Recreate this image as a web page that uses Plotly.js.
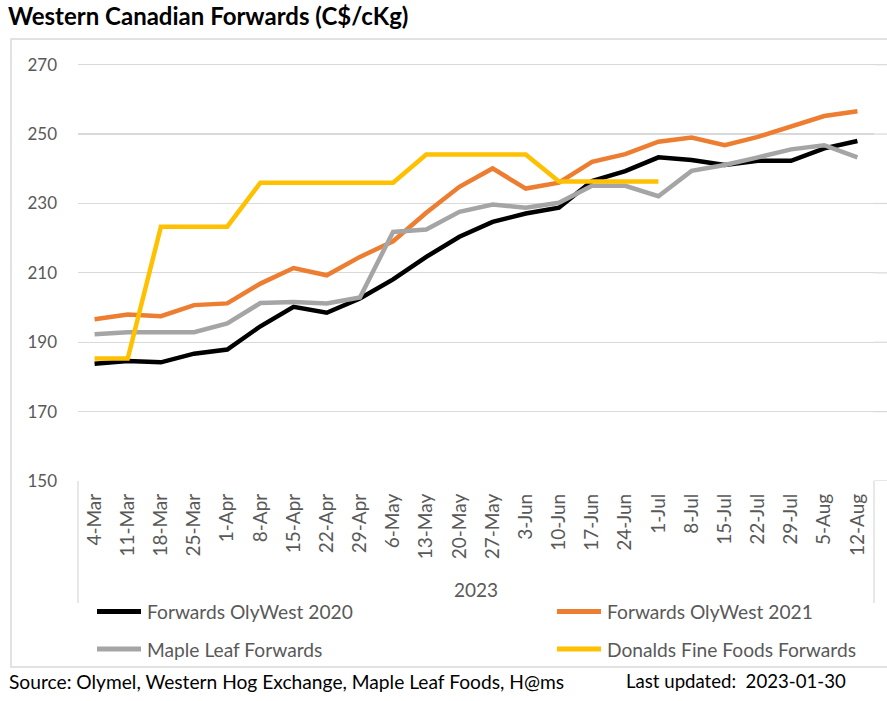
<!DOCTYPE html>
<html>
<head>
<meta charset="utf-8">
<script src="https://cdn.plot.ly/plotly-3.0.1.min.js"></script>
<style>html,body{margin:0;padding:0;background:#fff;}#chart{width:887px;height:701px;}</style>
</head>
<body>
<div id="chart"></div>
<script>
const weeks = ["4-Mar","11-Mar","18-Mar","25-Mar","1-Apr","8-Apr","15-Apr","22-Apr","29-Apr","6-May","13-May","20-May","27-May","3-Jun","10-Jun","17-Jun","24-Jun","1-Jul","8-Jul","15-Jul","22-Jul","29-Jul","5-Aug","12-Aug"];
const olyWest2020 = [183.8,184.6,184.2,186.7,187.9,194.6,200.2,198.5,202.6,208.1,214.6,220.4,224.7,227.1,228.8,236.5,239.3,243.3,242.5,241.1,242.3,242.3,245.9,248.0];
const olyWest2021 = [196.6,198.0,197.5,200.7,201.2,206.9,211.4,209.3,214.6,219.1,227.3,234.8,240.1,234.3,236.0,242.0,244.2,247.8,249.0,246.8,249.2,252.1,255.2,256.6];
const mapleLeaf = [192.3,192.9,192.9,192.9,195.4,201.3,201.6,201.2,202.9,221.8,222.5,227.6,229.7,228.8,230.2,235.1,235.1,232.1,239.4,241.1,243.3,245.6,246.8,243.3];
const donalds = [185.3,185.3,223.3,223.3,223.3,236.0,236.0,236.0,236.0,236.0,244.1,244.1,244.1,244.1,236.3,236.3,236.3,236.3];
const seriesNames = ["Forwards OlyWest 2020","Forwards OlyWest 2021","Maple Leaf Forwards","Donalds Fine Foods Forwards"];
const seriesColors = ["#000000","#ED7D31","#A5A5A5","#FFC000"];
const yTicks = [150,170,190,210,230,250,270];
const groupLabel = "2023";
const chartTitle = "Western Canadian Forwards (C$/cKg)";
const sourceText = "Source: Olymel, Western Hog Exchange, Maple Leaf Foods, H@ms";
const updatedText = "Last updated:  2023-01-30";

const FONT = "Lato, 'Open Sans', sans-serif";
const seriesData = [olyWest2020, olyWest2021, mapleLeaf, donalds];

const traces = seriesData.map((vals, i) => ({
  type: "scatter",
  mode: "lines",
  x: weeks.slice(0, vals.length),
  y: vals,
  name: seriesNames[i],
  line: {color: seriesColors[i], width: 4.5},
  showlegend: false,
  hoverinfo: "x+y+name"
}));

const W = 796, H = 436, L = 78, T = 45;
const px = v => (v - L) / W;
const py = v => (T + H - v) / H;

const shapes = [];
shapes.push({type:"rect", xref:"paper", yref:"paper", x0:px(11), x1:px(890), y0:py(667), y1:py(39),
  line:{color:"#D9D9D9", width:1.5}, fillcolor:"rgba(0,0,0,0)", layer:"below"});
shapes.push({type:"line", xref:"paper", yref:"paper", x0:0, x1:0, y0:0, y1:py(603), line:{color:"#D9D9D9", width:1.2}});
shapes.push({type:"line", xref:"paper", yref:"paper", x0:1, x1:1, y0:0, y1:py(603), line:{color:"#D9D9D9", width:1.2}});
yTicks.forEach(t => shapes.push({type:"line", xref:"paper", yref:"y", x0:1, x1:px(887), y0:t, y1:t,
  line:{color:"#D9D9D9", width:1.2}, layer:"below"}));

const annotations = [];
annotations.push({xref:"paper", yref:"paper", x:0.5, y:py(589), text:groupLabel, showarrow:false,
  xanchor:"center", yanchor:"middle", font:{family:FONT, size:19, color:"#595959"}});
const legPos = [[95,143,147,611.5],[555,603,607,611.5],[95,143,147,649],[555,603,607,649]];
seriesNames.forEach((n, i) => {
  const p = legPos[i];
  shapes.push({type:"line", xref:"paper", yref:"paper", x0:px(p[0]+2), x1:px(p[1]-2), y0:py(p[3]), y1:py(p[3]),
    line:{color:seriesColors[i], width:5}});
  annotations.push({xref:"paper", yref:"paper", x:px(p[2]-2), y:py(p[3]), text:n, showarrow:false,
    xanchor:"left", yanchor:"middle", font:{family:FONT, size:19.2, color:"#595959"}});
});
annotations.push({xref:"paper", yref:"paper", x:px(7), y:py(681), text:sourceText, showarrow:false,
  xanchor:"left", yanchor:"middle", font:{family:FONT, size:19.2, color:"#000000"}});
annotations.push({xref:"paper", yref:"paper", x:px(624), y:py(681), text:updatedText, showarrow:false,
  xanchor:"left", yanchor:"middle", font:{family:FONT, size:18.6, color:"#000000"}});

const layout = {
  width: 887, height: 701,
  margin: {l: L, r: 887 - L - W, t: T, b: 701 - T - H, pad: 0},
  paper_bgcolor: "#ffffff", plot_bgcolor: "#ffffff",
  title: {text: "<b>" + chartTitle + "</b>", xref: "container", yref: "container", x: 8/887, xanchor: "left",
    y: 1 - 17/701, yanchor: "middle", font: {family: FONT, size: 24, color: "#000000"}},
  xaxis: {type: "category", categoryorder: "array", categoryarray: weeks, range: [-0.5, weeks.length - 0.5],
    tickangle: -90, showgrid: false, zeroline: false, showline: false, ticks: "",
    ticklabelstandoff: 8,
    tickfont: {family: FONT, size: 19, color: "#595959"}},
  yaxis: {range: [150, 150 + H / (416.3/120)], tickvals: yTicks, ticktext: yTicks.map(String),
    showgrid: true, gridcolor: "#D9D9D9", gridwidth: 1.2, zeroline: false, showline: false, ticks: "",
    ticklabelstandoff: 20,
    tickfont: {family: FONT, size: 17, color: "#595959"}},
  shapes: shapes,
  annotations: annotations,
  showlegend: false
};

Plotly.newPlot("chart", traces, layout, {displayModeBar: false, staticPlot: true});
</script>
</body>
</html>
